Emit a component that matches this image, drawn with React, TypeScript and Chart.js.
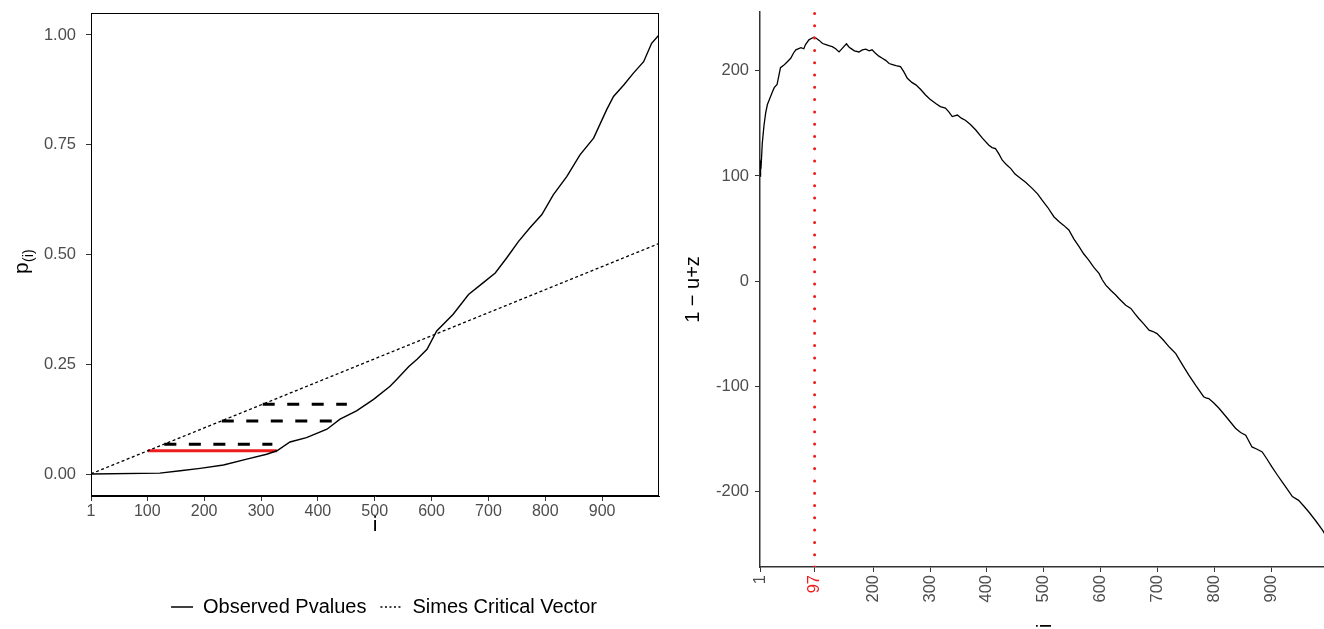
import React, { useEffect, useRef } from "react";
import { Chart, registerables } from "chart.js";

Chart.register(...registerables);

const FONT = "'Liberation Sans', Arial, Helvetica, sans-serif";
const TICK_GREY = "#4d4d4d";
const AXIS_DARK = "#333333";
const RED = "#ee1c1c";

// ---- Left panel: ordered p-values against rank i ----
const pIndex = [
  1, 122, 158, 193, 234, 275, 310, 328, 351, 380, 416, 439, 468, 498, 527, 539,
  560, 575, 592, 609, 638, 665, 691, 712, 732, 753, 773, 794, 814, 838, 861, 885,
  908, 920, 938, 955, 973, 987, 1000,
];
const pValues = [
  0, 0.002, 0.0075, 0.013, 0.0205, 0.034, 0.045, 0.053, 0.073, 0.083, 0.102, 0.125,
  0.144, 0.17, 0.2, 0.216, 0.245, 0.262, 0.284, 0.326, 0.364, 0.409, 0.436, 0.458,
  0.492, 0.53, 0.561, 0.591, 0.636, 0.678, 0.727, 0.765, 0.83, 0.86, 0.886, 0.913,
  0.939, 0.981, 1.0,
];
// Simes critical vector (straight line through the origin)
const simesIndex = [1, 1000];
const simesValues = [0.000525, 0.525];
// horizontal dashed steps between the critical line and the p-value curve
const stepLevels = [0.068, 0.121, 0.159];
const stepStart = [130, 231, 303];
const stepEnd = [320, 427, 451];
// rejection level (red segment)
const rejectLevel = 0.053;
const rejectStart = 101;
const rejectEnd = 328;
const pTicksX = [1, 100, 200, 300, 400, 500, 600, 700, 800, 900];
const pTicksY = [0, 0.25, 0.5, 0.75, 1.0];

// ---- Right panel: z + u - i against i ----
const zIndex = [
  1, 2, 3, 5, 8, 11, 14, 17, 22, 26, 31, 34, 37, 42, 46, 55, 60, 64, 73, 78, 81, 87,
  92, 96, 100, 105, 111, 117, 122, 128, 134, 140, 146, 153, 157, 160, 167, 175, 181,
  187, 193, 198, 204, 210, 216, 222, 228, 234, 240, 248, 254, 260, 268, 275, 284,
  292, 300, 310, 318, 327, 333, 339, 348, 355, 362, 371, 380, 392, 403, 409, 415,
  421, 427, 434, 442, 449, 456, 468, 480, 489, 497, 507, 518, 527, 535, 544, 553,
  562, 570, 579, 588, 597, 603, 609, 618, 626, 632, 644, 653, 660, 667, 676, 685,
  692, 699, 710, 721, 732, 743, 755, 768, 781, 785, 790, 799, 808, 822, 837, 846,
  855, 866, 875, 884, 892, 901, 910, 919, 928, 937, 948, 957, 966, 978, 990, 1000,
];
const zValues = [
  100, 112, 110, 131, 148, 160, 168, 172, 179, 184, 187, 195, 203, 205, 207, 212,
  217, 220, 222, 221, 225, 229.5, 231, 232, 231, 229, 226, 225, 224, 223, 221, 218,
  221.6, 225.7, 223, 221.6, 219, 218, 220, 220.6, 219, 220, 216.8, 214, 212, 210,
  207, 206, 205, 204, 199, 193, 189, 186.7, 182, 177, 173, 169, 166, 164.5, 161,
  156.5, 158, 155, 153, 149, 144, 136, 129.5, 127, 126, 121, 115, 111, 107, 102,
  99, 94, 88, 83, 77, 70, 61, 56.5, 53, 48.6, 40, 32.7, 26, 20, 13, 7.3, 1, -3.8,
  -9, -13, -16.5, -23, -26, -31, -35.6, -41, -46.7, -48, -50, -56, -63, -69, -79,
  -89.5, -100, -110, -111, -111.7, -116, -121, -130, -140, -144, -146.7, -157.8,
  -160, -162.6, -169, -176.8, -184, -191, -198, -205, -208.6, -214, -219.7, -228,
  -237, -246,
];
const peakIndex = 97;
const zTicksX = [1, 97, 200, 300, 400, 500, 600, 700, 800, 900];
const zTicksY = [-200, -100, 0, 100, 200];

const pts = (xs: number[], ys: number[]) => xs.map((x, k) => ({ x, y: ys[k] }));

const tickFont = { family: FONT, size: 16 };

// y scales keep a fixed width and do not reserve extra room for end labels
const fixedYAxis = (w: number) => (s: any) => {
  s.width = w;
  s.paddingTop = 0;
  s.paddingBottom = 0;
};

// frame round the plot area, the p_(i) axis title with a subscript,
// and a small nudge that centres the legend under the whole panel
const leftDecor = {
  id: "leftDecor",
  afterLayout(chart: any) {
    if (chart.legend) {
      chart.legend.left += 9;
      chart.legend.right += 9;
    }
  },
  afterDraw(chart: any) {
    const { ctx, chartArea } = chart;
    ctx.save();
    ctx.strokeStyle = "#000";
    ctx.lineWidth = 1;
    ctx.strokeRect(
      Math.round(chartArea.left) + 0.5,
      Math.round(chartArea.top) + 0.5,
      Math.round(chartArea.right - chartArea.left) - 1,
      Math.round(chartArea.bottom - chartArea.top) - 1
    );
    ctx.translate(23, 262);
    ctx.rotate(-Math.PI / 2);
    ctx.fillStyle = "#000";
    ctx.textBaseline = "alphabetic";
    ctx.font = `21px ${FONT}`;
    const pw = ctx.measureText("p").width;
    ctx.font = `14px ${FONT}`;
    const sw = ctx.measureText("(i)").width;
    const x0 = -(pw + sw) / 2;
    ctx.font = `21px ${FONT}`;
    ctx.fillText("p", x0, 5);
    ctx.font = `14px ${FONT}`;
    ctx.fillText("(i)", x0 + pw + 0.5, 10);
    ctx.restore();
  },
};

// rotated x-axis title of the right panel (mostly below the visible area)
const rightDecor = {
  id: "rightDecor",
  afterDraw(chart: any) {
    const { ctx, scales } = chart;
    const cx = scales.x.getPixelForValue(500);
    ctx.save();
    ctx.translate(cx + 2, 626);
    ctx.rotate(-Math.PI / 2);
    ctx.fillStyle = "#000";
    ctx.font = `20px ${FONT}`;
    ctx.textAlign = "left";
    ctx.textBaseline = "middle";
    ctx.fillText("i", -2, 0);
    ctx.restore();
  },
};

function LeftChart() {
  const ref = useRef<HTMLCanvasElement | null>(null);
  useEffect(() => {
    if (!ref.current) return;
    const datasets: any[] = [
      {
        label: "Observed Pvalues",
        data: pts(pIndex, pValues),
        borderColor: "#000",
        borderWidth: 1.4,
        pointRadius: 0,
        tension: 0,
      },
      {
        label: "Simes Critical Vector",
        data: pts(simesIndex, simesValues),
        borderColor: "#000",
        borderWidth: 1.3,
        borderDash: [3, 2.5],
        pointRadius: 0,
      },
    ];
    stepLevels.forEach((lv, k) => {
      datasets.push({
        label: "step" + k,
        data: [
          { x: stepStart[k], y: lv },
          { x: stepEnd[k], y: lv },
        ],
        borderColor: "#000",
        borderWidth: 3,
        borderDash: [12, 12.5],
        pointRadius: 0,
      });
    });
    datasets.push({
      label: "reject",
      data: [
        { x: rejectStart, y: rejectLevel },
        { x: rejectEnd, y: rejectLevel },
      ],
      borderColor: RED,
      borderWidth: 3,
      pointRadius: 0,
    });

    const chart = new Chart(ref.current, {
      type: "line",
      data: { datasets },
      plugins: [leftDecor],
      options: {
        animation: false,
        responsive: false,
        layout: { padding: { left: 0, right: 41, top: 13, bottom: 2 } },
        plugins: {
          tooltip: { enabled: false },
          legend: {
            display: true,
            position: "bottom",
            fullSize: false,
            labels: {
              usePointStyle: true,
              pointStyleWidth: 22,
              padding: 14,
              color: "#000",
              font: { family: FONT, size: 20 },
              generateLabels: () => [
                {
                  text: "Observed Pvalues",
                  strokeStyle: "#000",
                  fillStyle: "#000",
                  lineWidth: 1.5,
                  lineDash: [],
                  pointStyle: "line",
                  hidden: false,
                  datasetIndex: 0,
                },
                {
                  text: "Simes Critical Vector",
                  strokeStyle: "#000",
                  fillStyle: "#000",
                  lineWidth: 1.5,
                  lineDash: [2, 2.5],
                  pointStyle: "line",
                  hidden: false,
                  datasetIndex: 1,
                },
              ],
            },
          },
        },
        scales: {
          x: {
            type: "linear",
            min: 1,
            max: 1000,
            afterBuildTicks: (s: any) => {
              s.ticks = pTicksX.map((v) => ({ value: v }));
            },
            afterFit: (s: any) => {
              s.height = 87;
            },
            ticks: {
              autoSkip: false,
              maxRotation: 0,
              padding: 1,
              color: TICK_GREY,
              font: tickFont,
              callback: (v: any) => String(v),
            },
            grid: { drawOnChartArea: false, drawTicks: true, tickLength: 5, color: AXIS_DARK },
            border: { display: true, color: "#000", width: 1 },
            title: {
              display: true,
              text: "i",
              color: "#000",
              font: { family: FONT, size: 21 },
              padding: { top: 0, bottom: 45.5 },
            },
          },
          y: {
            type: "linear",
            min: -0.05,
            max: 1.05,
            afterBuildTicks: (s: any) => {
              s.ticks = pTicksY.map((v) => ({ value: v }));
            },
            afterFit: fixedYAxis(91),
            ticks: {
              padding: 10,
              color: TICK_GREY,
              font: { family: FONT, size: 16.5 },
              callback: (v: any) => Number(v).toFixed(2),
            },
            grid: { drawOnChartArea: false, drawTicks: true, tickLength: 5, color: AXIS_DARK },
            border: { display: true, color: "#000", width: 1 },
          },
        },
      },
    } as any);
    return () => chart.destroy();
  }, []);
  return <canvas ref={ref} width={700} height={629} style={{ display: "block" }} />;
}

function RightChart() {
  const ref = useRef<HTMLCanvasElement | null>(null);
  useEffect(() => {
    if (!ref.current) return;
    const chart = new Chart(ref.current, {
      type: "line",
      data: {
        datasets: [
          {
            label: "peak",
            data: [
              { x: peakIndex, y: -272 },
              { x: peakIndex, y: 256 },
            ],
            borderColor: RED,
            borderWidth: 3,
            borderDash: [0, 12.3],
            borderCapStyle: "round",
            pointRadius: 0,
          },
          {
            label: "z + u - i",
            data: pts(zIndex, zValues),
            borderColor: "#000",
            borderWidth: 1.3,
            pointRadius: 0,
            tension: 0,
          },
        ],
      },
      plugins: [rightDecor],
      options: {
        animation: false,
        responsive: false,
        layout: { padding: { left: 0, right: 1.8, top: 12, bottom: 0 } },
        plugins: { legend: { display: false }, tooltip: { enabled: false } },
        scales: {
          x: {
            type: "linear",
            min: 1,
            max: 1000,
            afterBuildTicks: (s: any) => {
              s.ticks = zTicksX.map((v) => ({ value: v }));
            },
            afterFit: (s: any) => {
              s.height = 93;
              s.paddingLeft = 0;
              s.paddingRight = 0;
            },
            ticks: {
              autoSkip: false,
              minRotation: 90,
              maxRotation: 90,
              padding: 3,
              font: { family: FONT, size: 16.5 },
              color: (c: any) => (c.tick && c.tick.value === peakIndex ? RED : TICK_GREY),
              callback: (v: any) => String(v),
            },
            grid: { drawOnChartArea: false, drawTicks: true, tickLength: 5, color: AXIS_DARK },
            border: { display: true, color: AXIS_DARK, width: 1.5 },
          },
          y: {
            type: "linear",
            min: -272,
            max: 256,
            afterBuildTicks: (s: any) => {
              s.ticks = zTicksY.map((v) => ({ value: v }));
            },
            afterFit: fixedYAxis(100),
            ticks: {
              padding: 6,
              color: TICK_GREY,
              font: { family: FONT, size: 16.5 },
              callback: (v: any) => String(v),
            },
            grid: { drawOnChartArea: false, drawTicks: true, tickLength: 5, color: AXIS_DARK },
            border: { display: true, color: AXIS_DARK, width: 1.5 },
            title: {
              display: true,
              text: "1 − u+z",
              color: "#000",
              font: { family: FONT, size: 20 },
              padding: { top: 21, bottom: 0 },
            },
          },
        },
      },
    } as any);
    return () => chart.destroy();
  }, []);
  return <canvas ref={ref} width={670} height={660} style={{ display: "block" }} />;
}

export default function App() {
  return (
    <div
      style={{
        position: "fixed",
        left: 0,
        top: 0,
        width: 1324,
        height: 629,
        overflow: "hidden",
        background: "#fff",
      }}
    >
      <div style={{ position: "absolute", left: 0, top: 0 }}>
        <LeftChart />
      </div>
      <div style={{ position: "absolute", left: 660, top: 0 }}>
        <RightChart />
      </div>
    </div>
  );
}
